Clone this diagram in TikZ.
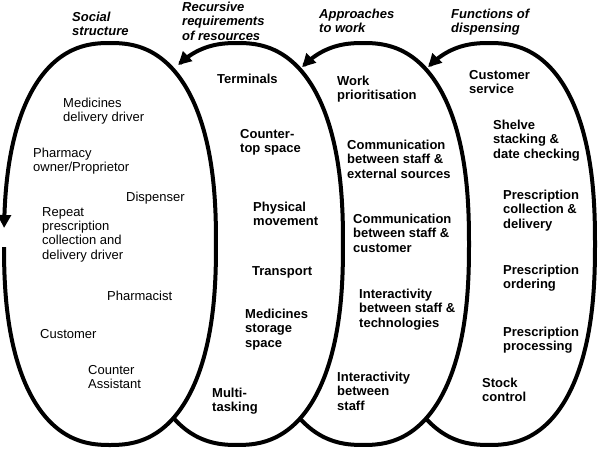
\documentclass[tikz,border=0pt]{standalone}
\usepackage{fontspec}
\setmainfont{Liberation Sans}
\usetikzlibrary{arrows.meta}
\begin{document}
\begin{tikzpicture}[x=1pt,y=1pt,
  declare function={sx(\u)=\u*pow(abs(\u)+0.0001,-0.1667);},
  loopline/.style={line width=4pt, line join=round, -{Triangle[length=13pt,width=13pt]}},
  person/.style={anchor=north west, inner sep=0pt, align=left, font=\fontsize{13}{14.3}\selectfont},
  resource/.style={anchor=north west, inner sep=0pt, align=left, font=\fontsize{13}{14.3}\selectfont\bfseries},
  heading/.style={anchor=north west, inner sep=0pt, align=left, font=\fontsize{13}{14.3}\selectfont\bfseries\itshape}]
\useasboundingbox (0,0) rectangle (600,449);

% loops
\draw[loopline] plot[domain=180.4:537.25, samples=260, variable=\t] ({110+106*sx(cos(\t))},{205+201*sx(sin(\t))});
\draw[loopline] plot[domain=237.3:479.5, samples=180, variable=\t] ({237+106*sx(cos(\t))},{205+201*sx(sin(\t))});
\draw[loopline] plot[domain=237.7:480.9, samples=180, variable=\t] ({363+106*sx(cos(\t))},{205+201*sx(sin(\t))});
\draw[loopline] plot[domain=237.7:480.9, samples=180, variable=\t] ({489+106*sx(cos(\t))},{205+201*sx(sin(\t))});

% headings
\node[heading] (hsoc) at (72,437) {Social\\structure};
\node[heading] (hrec) at (182,447) {Recursive\\requirements\\of resources};
\node[heading] (happ) at (319,440) {Approaches\\to work};
\node[heading] (hfun) at (451,440) {Functions of\\dispensing};

% social structure
\node[person] (med) at (63,351) {Medicines\\delivery driver};
\node[person] (own) at (33,301) {Pharmacy\\owner/Proprietor};
\node[person] (disp) at (126,257) {Dispenser};
\node[person] (rep) at (42,242) {Repeat\\prescription\\collection and\\delivery driver};
\node[person] (pharm) at (107,158) {Pharmacist};
\node[person] (cust) at (40,120) {Customer};
\node[person] (ca) at (88,84) {Counter\\Assistant};

% resources
\node[resource] (term) at (217,375) {Terminals};
\node[resource] (ctop) at (240,320) {Counter-\\top space};
\node[resource] (phys) at (253,247) {Physical\\movement};
\node[resource] (trans) at (252,183) {Transport};
\node[resource] (stor) at (245,140) {Medicines\\storage\\space};
\node[resource] (multi) at (212,61) {Multi-\\tasking};

% approaches
\node[resource] (work) at (337,373) {Work\\prioritisation};
\node[resource] (com1) at (347,309) {Communication\\between staff \&\\external sources};
\node[resource] (com2) at (353,235) {Communication\\between staff \&\\customer};
\node[resource] (int1) at (359,160) {Interactivity\\between staff \&\\technologies};
\node[resource] (int2) at (337,77) {Interactivity\\between\\staff};

% functions
\node[resource] (cserv) at (469,379) {Customer\\service};
\node[resource] (shel) at (493,329) {Shelve\\stacking \&\\date checking};
\node[resource] (pcol) at (503,259) {Prescription\\collection \&\\delivery};
\node[resource] (pord) at (503,184) {Prescription\\ordering};
\node[resource] (pproc) at (503,122) {Prescription\\processing};
\node[resource] (stock) at (482,71) {Stock\\control};
\end{tikzpicture}
\end{document}
